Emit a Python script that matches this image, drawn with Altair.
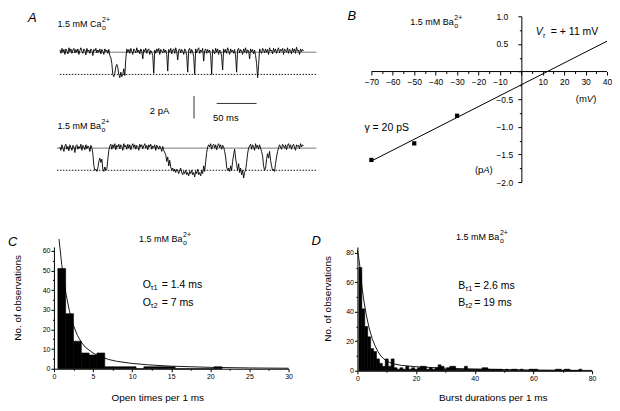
import altair as alt
import pandas as pd

FONT = "Liberation Sans"

# ---------------- Panel A: single-channel traces (pA), 1.25 ms per sample ----------------
sample_ms = 1.25
ca_trace = [
    0.2, -0.1, 0.35, 0.0, 0.25, -0.2, 0.3, 0.1, -0.15, 0.4,
    0.05, 0.3, -0.1, 0.2, 0.35, -0.05, 0.25, 0.0, 0.3, -0.2,
    0.15, 0.4, 0.1, -0.1, 0.3, 0.2, -0.25, 0.35, 0.05, 0.2,
    -0.1, 0.3, 0.15, -0.3, 0.25, 0.1, 0.35, -0.05, 0.2, 0.0,
    0.3, -0.15, 0.25, 0.1, -0.2, 0.3, 0.05, 0.2, -0.1, 0.25,
    -0.3, -0.5,
    -1.0, -2.0, -2.2, -1.9, -1.3, -1.1, -1.4, -2.0, -2.3, -1.8, -2.2, -2.0, -1.5, -2.1, -0.6,
    0.3, 0.0, 0.25, -0.1, 0.35, 0.1, -0.2, 0.3, 0.15, -0.05,
    0.4, 0.0, 0.2, -0.15, 0.3, 0.1, -0.6, 0.25, 0.05, 0.35,
    -0.1, 0.2, 0.3, -0.2, 0.15, 0.0, -0.3,
    -1.9,
    0.2, -0.1, 0.3, 0.05, 0.35, -0.2, 0.25, 0.1, -0.05, 0.3, 0.0, 0.2, -0.2,
    -1.7,
    0.25, 0.0, 0.35, -0.15, 0.2, 0.3, -0.1, 0.4, 0.05, -0.7, 0.2, 0.3, -0.05, 0.25, 0.1, -0.2, 0.3, 0.15, -0.3,
    -1.8,
    0.2, 0.35, -0.1, 0.25, 0.0, -0.4,
    -2.0,
    0.3, -0.05, 0.25, 0.4, -0.1, 0.2, 0.05, 0.35, -0.8, 0.15, 0.3, -0.1, 0.25, 0.0, 0.2, -0.3,
    -2.0,
    0.25, 0.1, -0.15, 0.35, 0.0, 0.3, -0.2, 0.2, 0.1, -0.4,
    -1.6,
    0.3, 0.0, 0.25, -0.1, 0.4, 0.15, -0.2, 0.3, 0.05, 0.2, -0.1, 0.25, -0.35,
    -1.8,
    0.2, 0.35, -0.05, 0.25, 0.1, -0.2, 0.3, 0.0, 0.4, -0.1, 0.2, 0.15, -0.6, 0.3, 0.05, 0.25, -0.15, 0.2, -0.3,
    -1.0, -2.3, -1.2,
    0.3, 0.1, -0.1, 0.35, 0.2, -0.05, 0.3, 0.0, 0.25, -0.2,
    0.4, 0.1, 0.2, -0.15, 0.35, 0.05, 0.3, -0.1, 0.2, 0.4,
    -0.05, 0.25, 0.1, 0.35, -0.2, 0.3, 0.15, 0.0, 0.4, -0.1,
    0.25, 0.2, -0.15, 0.35, 0.05, 0.3, -0.1, 0.45, 0.1, 0.2,
    -0.2, 0.3, 0.05, 0.25, 0.1]
ba_trace = [
    0.1, -0.2, 0.3, 0.0, -0.3, 0.2, 0.35, -0.1, 0.15, -0.25,
    0.3, 0.05, -0.2, 0.25, 0.1, -0.4, 0.2, 0.3, -0.1, 0.15,
    0.0, 0.35, -0.2, 0.25, 0.1, -0.15, 0.3, -0.05, 0.2, 0.1,
    -0.3, 0.25, 0.0, -0.5,
    -1.6, -2.0, -1.9, -2.1, -1.8, -1.2, -0.9, -1.3, -1.0, -1.9, -2.1, -1.7, -2.0, -1.9, -1.0, -0.2,
    0.2, 0.35, -0.1, 0.3, 0.05, 0.4, -0.15, 0.25, 0.1, 0.35,
    -0.05, 0.3, 0.15, -0.2, 0.4, 0.1, 0.25, -0.1, 0.35, 0.0,
    0.3, -0.15, 0.2, 0.4, 0.05, 0.3, -0.1, 0.25, 0.15, -0.2,
    0.35, 0.1, 0.3, -0.05, 0.2, 0.4, 0.0, 0.25, -0.15, 0.3,
    0.1, 0.35, -0.1, 0.2, 0.05, 0.3, -0.2, 0.25, 0.1, -0.1,
    0.2, 0.0, -0.3, 0.15, -0.2, -0.4,
    -0.6, -1.2, -0.8, -1.6, -1.1, -1.7, -2.0, -1.8, -2.1, -1.9,
    -2.2, -1.9, -2.0, -2.3, -2.0, -1.8, -2.2, -2.4, -2.1, -2.3,
    -2.0, -2.4, -2.2, -2.5, -2.1, -2.3, -2.0, -2.4, -2.2, -2.6,
    -2.1, -2.3, -1.9, -2.4, -2.2, -2.5, -2.0, -2.3, -1.6, -2.1,
    -1.2, -0.4, 0.1,
    0.3, 0.1, 0.4, -0.1, 0.25, 0.35, 0.0, 0.3, -0.15, 0.2, 0.4, 0.05, 0.3, -0.1, 0.25, 0.1, -0.3,
    -0.8, -1.7, -2.0, -1.8, -2.1, -1.6, -2.0, -1.2, -0.6, -0.1, -0.9, -1.5,
    -2.0, -1.4, -2.2, -1.8, -2.4, -2.0, -2.7, -2.2, -2.0, -1.3, -0.5, 0.0,
    0.2, 0.35, -0.1, 0.3, 0.1, -0.2, 0.4, 0.05, 0.25, -0.1, 0.3, 0.0, -0.3,
    -0.7, -1.6, -2.0, -1.8, -1.0, -0.5, -0.9, -0.3, -1.1, -1.6, -2.0, -1.9, -2.1, -1.4, -0.8, -0.3, 0.0,
    0.3, 0.1, -0.1, 0.35, 0.2, 0.0, 0.3, -0.15, 0.25, 0.4,
    0.05, 0.3, -0.1, 0.2, 0.35, 0.1, -0.2, 0.3, 0.15, 0.25,
    -0.05, 0.4, 0.1, 0.3, 0.2]
closed_level = 0.0
open_level = -2.0
ca_ref_span = [0.0, 321.0]
ba_ref_span = [-3.75, 321.0]
bar_v_t = [167.9]
bar_v_i = [-3.94, -5.98]      # 2 pA
bar_h_t = [196.25, 246.25]    # 50 ms
bar_h_i = [-4.62]

# ---------------- Panel B: I-V ----------------
iv_v = [-70, -50, -30]
iv_i = [-1.6, -1.3, -0.8]
fit_v = [-70, 40]
fit_i = [-1.62, 0.55]
v_axis_span = [-70, 40]

# ---------------- Panel C: open times ----------------
open_bin = list(range(1, 22))
open_count = [51, 28, 14, 8, 7, 8, 1, 1, 1, 1, 0, 1, 1, 1, 1, 0, 0, 0, 0, 0, 1]
open_fit_t = [0.65, 1, 1.5, 2, 2.5, 3, 3.5, 4, 5, 6, 7, 8, 10, 12, 15, 20, 25, 30]
open_fit_n = [66, 53, 39, 29, 22, 17, 13.5, 11, 8, 6, 4.7, 3.8, 2.7, 2.0, 1.3, 0.7, 0.4, 0.25]

# ---------------- Panel D: burst durations ----------------
burst_bin = list(range(1, 77))
burst_count = [70, 42, 30, 23, 15, 13, 8, 5, 3, 8, 3, 8, 2, 1, 2, 1, 3, 1, 2, 1,
               2, 3, 3, 1, 2, 1, 2, 4, 3, 1, 2, 3, 3, 1, 1, 1, 3, 1, 1, 1,
               1, 1, 2, 2, 1, 1, 1, 1, 1, 0, 1, 0, 1, 1, 0, 1, 0, 0, 1, 1,
               1, 0, 0, 0, 0, 0, 0, 1, 1, 0, 1, 1, 0, 0, 0, 1]
burst_fit_t = [0, 0.5, 1, 1.5, 2, 3, 4, 5, 6, 7, 8, 9, 10, 12, 15, 20, 30, 40, 50, 60, 70, 80]
burst_fit_n = [82, 76, 68, 58, 50, 38, 29, 22, 17, 13, 10, 8, 6.5, 4.8, 3.6, 2.7, 1.7, 1.1, 0.75, 0.5, 0.3, 0.2]


def txt(text, x, y, size=9.5, align="left", style="normal", angle=0):
    return alt.Chart(alt.Data(values=[{}])).mark_text(
        text=text, font=FONT, fontSize=size, align=align, baseline="middle",
        fontStyle=style, angle=angle, color="black"
    ).encode(x=alt.value(x), y=alt.value(y))


def ion_label(x, y, ion, w):
    return [txt("1.5 mM " + ion, x, y, size=9), txt("2+", x + w, y - 3.8, size=7),
            txt("o", x + w, y + 3.8, size=7)]


def tau_label(x, y, letter, idx, rest, sub_dx, rest_dx):
    return [txt(letter, x, y, size=10.5), txt("\u03c4" + idx, x + sub_dx, y + 3.2, size=7.5),
            txt(rest, x + rest_dx, y, size=10.5)]


# ================= Panel A =================
tA = [i * sample_ms for i in range(len(ca_trace))]
dfA = pd.DataFrame({"t": tA, "ca": ca_trace, "ba": ba_trace})
xA = alt.Scale(domain=[-7.5, 286.25], nice=False, zero=False)
ca_scale = alt.Scale(domain=[-11.71, 3.24], nice=False, zero=False)
ba_scale = alt.Scale(domain=[-3.06, 11.89], nice=False, zero=False)


def ref_rules(span, scale):
    d = pd.DataFrame({"t": [span[0]], "t2": [span[1]], "closed": [closed_level], "open": [open_level]})
    solid = alt.Chart(d).mark_rule(color="#555555", strokeWidth=0.8).encode(
        x=alt.X("t:Q", scale=xA, axis=None), x2="t2:Q",
        y=alt.Y("closed:Q", scale=scale, axis=None))
    dotted = alt.Chart(d).mark_rule(color="black", strokeWidth=0.9, strokeDash=[1.5, 1.5]).encode(
        x=alt.X("t:Q", scale=xA, axis=None), x2="t2:Q",
        y=alt.Y("open:Q", scale=scale, axis=None))
    return [solid, dotted]


ca_line = alt.Chart(dfA).mark_line(color="black", strokeWidth=0.9).encode(
    x=alt.X("t:Q", scale=xA, axis=None), y=alt.Y("ca:Q", scale=ca_scale, axis=None))
ba_line = alt.Chart(dfA).mark_line(color="black", strokeWidth=0.9).encode(
    x=alt.X("t:Q", scale=xA, axis=None), y=alt.Y("ba:Q", scale=ba_scale, axis=None))

sb_v = alt.Chart(pd.DataFrame({"t": bar_v_t, "i1": [bar_v_i[0]], "i2": [bar_v_i[1]]})).mark_rule(
    color="#333333", strokeWidth=1).encode(
    x=alt.X("t:Q", scale=xA, axis=None), y=alt.Y("i1:Q", scale=ca_scale, axis=None), y2="i2:Q")
sb_h = alt.Chart(pd.DataFrame({"t1": [bar_h_t[0]], "t2": [bar_h_t[1]], "i": bar_h_i})).mark_rule(
    color="#333333", strokeWidth=1).encode(
    x=alt.X("t1:Q", scale=xA, axis=None), x2="t2:Q", y=alt.Y("i:Q", scale=ca_scale, axis=None))

layer_ca = alt.layer(*ref_rules(ca_ref_span, ca_scale), ca_line, sb_v, sb_h)
layer_ba = alt.layer(*ref_rules(ba_ref_span, ba_scale), ba_line)
textsA = [txt("A", -26, 2, size=13, style="italic")] + ion_label(3.7, 7.5, "Ca", 44.5) + \
    ion_label(3.7, 110, "Ba", 44) + [txt("2 pA", 96, 94.7), txt("50 ms", 159.3, 102.3)]
panelA = alt.layer(layer_ca, layer_ba, *textsA).resolve_scale(y="independent").properties(
    width=235, height=166)

# ================= Panel B =================
bxs = alt.Scale(domain=[-76.525, 40], nice=False, zero=False)
bys = alt.Scale(domain=[-2, 1], nice=False, zero=False)
bx_axis = alt.Axis(values=list(range(-70, 41, 5)), offset=-110.7, title=None, grid=False, domain=False,
                   labelExpr="datum.value % 10 === 0 && datum.value !== 0 ? datum.label : ''",
                   tickSize={"condition": {"test": "datum.value % 10 === 0", "value": 3.5}, "value": 2},
                   labelFontSize=8.5, labelPadding=2, labelOverlap=False, labelFlush=False, labelBound=False)
by_axis = alt.Axis(values=[v / 4 for v in range(-8, 5)], offset=-164.2, title=None, grid=False, format=".1f",
                   labelExpr="abs(datum.value*2 - round(datum.value*2)) < 0.001 && datum.value !== 0 ? datum.label : ''",
                   tickSize={"condition": {"test": "abs(datum.value*2 - round(datum.value*2)) < 0.001", "value": 3.5}, "value": 2},
                   labelFontSize=8.5, labelPadding=22, labelAlign="left", labelOverlap=False,
                   labelFlush=False, labelBound=False)
Bx = alt.X("v:Q", scale=bxs, axis=bx_axis)
By = alt.Y("i:Q", scale=bys, axis=by_axis)
b_zero = alt.Chart(pd.DataFrame({"v": [v_axis_span[0]], "v2": [v_axis_span[1]], "i": [0.0]})).mark_rule(
    color="black", strokeWidth=1).encode(x=Bx, x2="v2:Q", y=By)
b_pts = alt.Chart(pd.DataFrame({"v": iv_v, "i": iv_i})).mark_point(
    shape="square", filled=True, color="black", size=18, opacity=1).encode(x=Bx, y=By)
b_fit = alt.Chart(pd.DataFrame({"v": fit_v, "i": fit_i})).mark_line(color="black", strokeWidth=1).encode(x=Bx, y=By)
dxB = 14
textsB = [txt("B", -24 + dxB, 0, size=13, style="italic")] + ion_label(39 + dxB, 5.7, "Ba", 44) + [
    txt("V", 164.7 + dxB, 16, size=10.5, style="italic"), txt("r", 172 + dxB, 19.5, size=7.5),
    txt("= + 11 mV", 179.7 + dxB, 16, size=10.5),
    txt("(m", 204.7 + dxB, 83), txt("V", 215.8 + dxB, 83, style="italic"), txt(")", 222.1 + dxB, 83),
    txt("\u03b3 = 20 pS", -7 + dxB, 112, size=10.5),
    txt("(p", 103.7 + dxB, 153.7), txt("A", 112.1 + dxB, 153.7, style="italic"), txt(")", 118.4 + dxB, 153.7),
]
panelB = alt.layer(b_zero, b_fit, b_pts, *textsB).properties(width=250, height=166)


# ================= Panels C and D =================
def hist_panel(bins, counts, fit_t, fit_n, xdom, ydom, xvals, xmajor, yvals, ymajor):
    xs = alt.Scale(domain=xdom, nice=False, zero=False)
    ys = alt.Scale(domain=ydom, nice=False, zero=False)
    xax = alt.Axis(values=xvals, title=None, grid=False, labelFontSize=7, labelPadding=1,
                   labelExpr=f"datum.value % {xmajor} === 0 ? datum.label : ''",
                   tickSize={"condition": {"test": f"datum.value % {xmajor} === 0", "value": 3}, "value": 1.5},
                   labelOverlap=False, labelFlush=False, labelBound=False)
    yax = alt.Axis(values=yvals, title=None, grid=False, labelFontSize=7, labelPadding=1,
                   labelExpr=f"datum.value % {ymajor} === 0 ? datum.label : ''",
                   tickSize={"condition": {"test": f"datum.value % {ymajor} === 0", "value": 3}, "value": 1.5},
                   labelOverlap=False, labelFlush=False, labelBound=False)
    bars = alt.Chart(pd.DataFrame({"c": bins, "n": counts})).transform_calculate(
        lo="datum.c - 0.5", hi="datum.c + 0.5", zero="0").mark_bar(
        color="black", stroke="black", strokeWidth=0.6).encode(
        x=alt.X("lo:Q", scale=xs, axis=xax), x2="hi:Q",
        y=alt.Y("n:Q", scale=ys, axis=yax), y2="zero:Q")
    fit = alt.Chart(pd.DataFrame({"lo": fit_t, "n": fit_n})).mark_line(color="black", strokeWidth=0.9).encode(
        x=alt.X("lo:Q", scale=xs, axis=xax), y=alt.Y("n:Q", scale=ys, axis=yax))
    return bars, fit


c_bars, c_fit = hist_panel(open_bin, open_count, open_fit_t, open_fit_n, [0, 30], [0, 62],
                           [v * 2.5 for v in range(13)], 5, list(range(0, 61, 5)), 10)
textsC = [txt("C", -46, -5, size=13, style="italic")] + ion_label(85.3, -8, "Ba", 44) + \
    tau_label(89, 38, "O", "1", "= 1.4 ms", 7.8, 19) + tau_label(89, 56, "O", "2", "= 7 ms", 7.8, 19) + [
    txt("No. of observations", -36, 51, size=10, align="center", angle=270),
    txt("Open times per 1 ms", 104, 151, size=10, align="center"),
]
panelC = alt.layer(c_bars, c_fit, *textsC).properties(width=235, height=122)

d_bars, d_fit = hist_panel(burst_bin, burst_count, burst_fit_t, burst_fit_n, [0, 80], [0, 84],
                           list(range(0, 81, 10)), 20, list(range(0, 81, 10)), 20)
textsD = [txt("D", -46, -6, size=13, style="italic")] + ion_label(98.7, -10, "Ba", 44) + \
    tau_label(101, 38.7, "B", "1", "= 2.6 ms", 7, 16) + tau_label(101, 55.7, "B", "2", "= 19 ms", 7, 16) + [
    txt("No. of observations", -29, 52, size=10, align="center", angle=270),
    txt("Burst durations per 1 ms", 136, 151, size=10, align="center"),
]
panelD = alt.layer(d_bars, d_fit, *textsD).properties(width=235, height=124)

chart = alt.concat(panelA, panelB, panelC, panelD, columns=2,
                   spacing={"row": 65, "column": 69}, bounds="flush", align="none").properties(
    padding={"left": 0, "top": 2, "right": 0, "bottom": 0}, background="white"
).configure_view(stroke=None).configure_axis(
    domainColor="black", tickColor="black", labelColor="black", labelFont=FONT,
    domainWidth=1, tickWidth=1
)

chart.save("out.html", embed_options={"renderer": "svg", "actions": False})
